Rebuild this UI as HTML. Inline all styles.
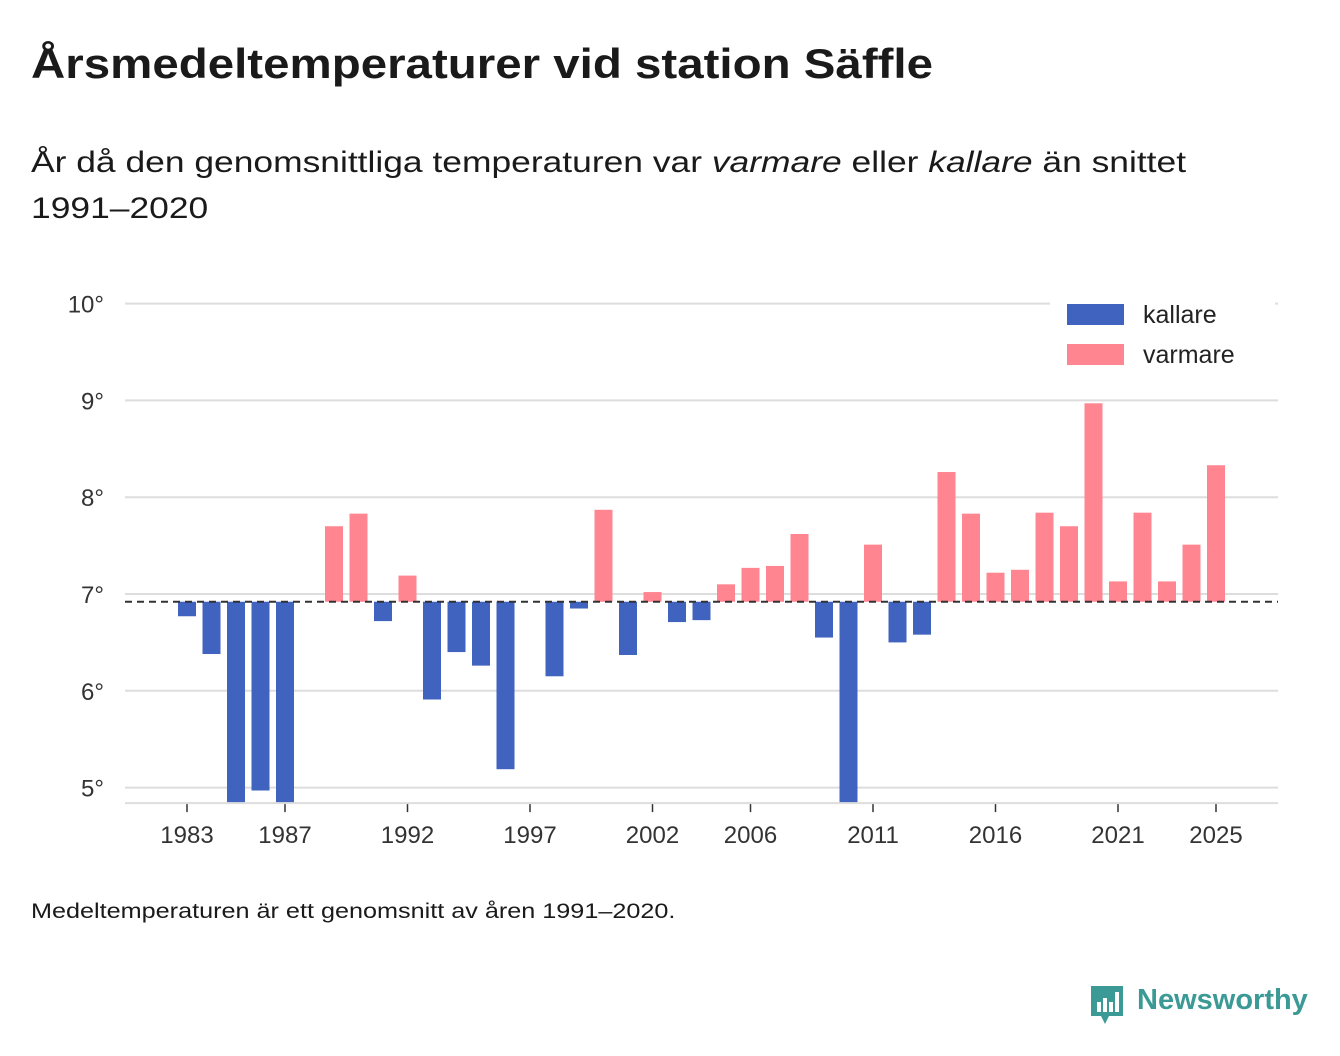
<!DOCTYPE html>
<html><head><meta charset="utf-8">
<style>
body{margin:0;width:1340px;height:1056px;background:#fff;font-family:"Liberation Sans",sans-serif;color:#1a1a1a;position:relative;overflow:hidden}
.t{position:absolute;white-space:nowrap;transform-origin:0 0}
</style></head><body>
<div class="t" style="left:31px;top:40px;font-size:42px;font-weight:bold;transform:scaleX(1.13)">Årsmedeltemperaturer vid station Säffle</div>
<div class="t" style="left:31px;top:140px;font-size:30px;line-height:46px;white-space:normal;width:1000px;transform:scaleX(1.18)">År då den genomsnittliga temperaturen var <i>varmare</i> eller <i>kallare</i> än snittet 1991–2020</div>
<svg id="chart" width="1340" height="1056" style="position:absolute;left:0;top:0"></svg>
<div class="t" style="left:31px;top:900px;font-size:21px;transform:scaleX(1.2)">Medeltemperaturen är ett genomsnitt av åren 1991–2020.</div>
<div style="position:absolute;left:1089px;top:984px">
<svg width="36" height="42"><path d="M2 2h32v30H20l-4 8-4-8H2z" fill="#3b9a96"/><rect x="8" y="18" width="4" height="10" fill="#fff"/><rect x="14" y="14" width="4" height="14" fill="#fff"/><rect x="20" y="18" width="4" height="10" fill="#fff"/><rect x="26" y="8" width="4" height="20" fill="#fff"/></svg>
<span class="t" style="left:48px;top:0px;font-size:29px;font-weight:bold;color:#3b9a96">Newsworthy</span></div>
<script>
const years=[1983,1984,1985,1986,1987,1988,1989,1990,1991,1992,1993,1994,1995,1996,1997,1998,1999,2000,2001,2002,2003,2004,2005,2006,2007,2008,2009,2010,2011,2012,2013,2014,2015,2016,2017,2018,2019,2020,2021,2022,2023,2024,2025];
const temps=[6.77,6.38,4.8,4.97,4.8,null,7.70,7.83,6.72,7.19,5.91,6.40,6.26,5.19,null,6.15,6.85,7.87,6.37,7.02,6.71,6.73,7.10,7.27,7.29,7.62,6.55,4.8,7.51,6.50,6.58,8.26,7.83,7.22,7.25,7.84,7.70,8.97,7.13,7.84,7.13,7.51,8.33];
const baseline=6.92;
const yTicks=[5,6,7,8,9,10];
const xTicks=[1983,1987,1992,1997,2002,2006,2011,2016,2021,2025];
const svg=document.getElementById('chart');const NS='http://www.w3.org/2000/svg';
const y=v=>594-(v-7)*96.8;const x=yr=>187+24.5*(yr-1983);
const yMinV=4.85;
function mk(t,a,txt){const e=document.createElementNS(NS,t);for(const k in a)e.setAttribute(k,a[k]);if(txt!==undefined)e.textContent=txt;svg.appendChild(e);return e;}
yTicks.forEach(v=>{
 const l=mk('line',{x1:125,x2:1278,y1:y(v),y2:y(v),stroke:'#ddd','stroke-width':2});
 
 
 const t=mk('text',{x:104,y:y(v)+9,'text-anchor':'end','font-size':24,fill:'#333','font-family':'Liberation Sans, sans-serif'},v+'°');
 
 
});
const ax=mk('line',{x1:125,x2:1278,y1:y(yMinV)+1,y2:y(yMinV)+1,stroke:'#ddd','stroke-width':2});


xTicks.forEach(yr=>{
 const tk=mk('line',{x1:x(yr),x2:x(yr),y1:y(yMinV)+2,y2:y(yMinV)+10,stroke:'#333','stroke-width':1.5});
 
 
 const t=mk('text',{x:x(yr),y:843,'text-anchor':'middle','font-size':24,fill:'#333','font-family':'Liberation Sans, sans-serif'},yr);
 
 
});
years.forEach((yr,i)=>{
 const v=temps[i];if(v===null)return;
 const vv=Math.max(v,yMinV);
 const top=Math.min(y(vv),y(baseline)),h=Math.abs(y(vv)-y(baseline));
 const r=mk('rect',{x:x(yr)-9,y:top,width:18,height:h,fill:v<baseline?'#4063c0':'#ff8591'});
 
 
});
const bl=mk('line',{x1:125,x2:1278,y1:y(baseline),y2:y(baseline),stroke:'#333','stroke-width':2,'stroke-dasharray':'7,5'});


const lb=mk('rect',{x:1050,y:292,width:225,height:82,fill:'#fff'});


[['kallare','#4063c0',304],['varmare','#ff8591',344]].forEach(([n,c,yy])=>{
 const s=mk('rect',{x:1067,y:yy,width:57,height:21,fill:c});
 
 
 const t=mk('text',{x:1143,y:yy+19,'font-size':25,fill:'#222','font-family':'Liberation Sans, sans-serif'},n);
 
 
});
</script>
</body></html>
